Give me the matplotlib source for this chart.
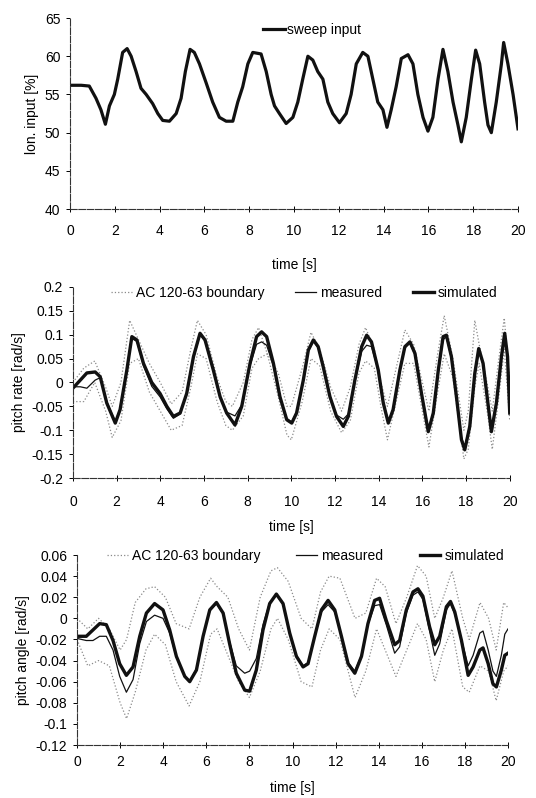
import matplotlib
matplotlib.use("Agg")
import matplotlib.pyplot as plt

plt.rcParams["font.family"] = ["Liberation Sans", "DejaVu Sans"]
plt.rcParams["font.size"] = 10

# ---- panel 1: sweep input ----
t_in = [0, 0.5, 0.86, 1.16, 1.38, 1.58, 1.76, 1.98, 2.13, 2.35, 2.55, 2.73, 2.95, 3.17, 3.4,
        3.69, 3.92, 4.14, 4.44, 4.74, 4.96, 5.15, 5.36, 5.55, 5.78, 6.08, 6.37, 6.67, 6.97,
        7.27, 7.49, 7.71, 7.94, 8.16, 8.53, 8.76, 8.98, 9.13, 9.35, 9.65, 9.95, 10.17, 10.39,
        10.62, 10.84, 11.06, 11.29, 11.51, 11.73, 12.03, 12.33, 12.55, 12.78, 13.07, 13.3,
        13.52, 13.74, 13.97, 14.15, 14.34, 14.56, 14.79, 15.09, 15.31, 15.53, 15.76, 15.98,
        16.2, 16.43, 16.65, 16.87, 17.1, 17.32, 17.47, 17.69, 17.92, 18.11, 18.29, 18.51,
        18.66, 18.81, 19.03, 19.26, 19.36, 19.55, 19.78, 20.0]
sweep = [56.2, 56.2, 56.1, 54.5, 53.0, 51.1, 53.5, 55.0, 57.0, 60.5, 61.0, 60.0, 58.0, 55.8,
         55.0, 53.8, 52.5, 51.6, 51.5, 52.5, 54.5, 58.0, 60.9, 60.5, 59.0, 56.5, 54.0, 52.0,
         51.5, 51.5, 54.0, 56.0, 59.0, 60.5, 60.3, 58.0, 55.0, 53.5, 52.5, 51.2, 52.0, 54.0,
         57.0, 60.0, 59.5, 58.0, 57.0, 54.0, 52.5, 51.3, 52.5, 55.0, 59.0, 60.5, 60.0, 57.0,
         54.0, 53.0, 50.7, 53.0, 56.0, 59.7, 60.2, 59.0, 55.0, 52.0, 50.2, 52.0, 57.0, 60.9,
         58.0, 54.0, 51.0, 48.8, 52.0, 57.0, 60.8, 59.0, 54.0, 51.0, 50.0, 54.0, 59.0, 61.8,
         59.0, 55.0, 50.5]

# ---- panel 2: pitch rate ----
t_q = [0, 0.34, 0.64, 1.02, 1.25, 1.55, 1.94, 2.16, 2.47, 2.7, 2.93, 3.23, 3.61, 3.99, 4.3,
       4.6, 4.91, 5.21, 5.52, 5.82, 6.05, 6.43, 6.74, 7.04, 7.42, 7.73, 8.11, 8.41, 8.64,
       8.87, 9.18, 9.48, 9.79, 10.02, 10.24, 10.55, 10.78, 11.01, 11.23, 11.46, 11.77, 12.07,
       12.38, 12.61, 12.91, 13.22, 13.45, 13.67, 13.98, 14.21, 14.44, 14.66, 14.97, 15.2,
       15.43, 15.66, 15.96, 16.27, 16.5, 16.73, 16.95, 17.1, 17.33, 17.56, 17.79, 17.94,
       18.17, 18.4, 18.58, 18.78, 19.0, 19.16, 19.39, 19.62, 19.77, 19.9, 20.0]
q_sim = [-0.012, 0.005, 0.02, 0.022, 0.012, -0.043, -0.085, -0.057, 0.026, 0.096, 0.089,
         0.04, 0.0, -0.023, -0.05, -0.071, -0.064, -0.023, 0.054, 0.103, 0.089, 0.026,
         -0.03, -0.064, -0.089, -0.05, 0.04, 0.096, 0.106, 0.096, 0.04, -0.03, -0.078,
         -0.085, -0.064, 0.005, 0.068, 0.089, 0.075, 0.033, -0.03, -0.071, -0.092, -0.071,
         0.005, 0.075, 0.099, 0.085, 0.026, -0.043, -0.085, -0.057, 0.026, 0.075, 0.085,
         0.061, -0.023, -0.103, -0.064, 0.026, 0.096, 0.099, 0.054, -0.03, -0.12, -0.141,
         -0.092, 0.019, 0.071, 0.04, -0.043, -0.103, -0.043, 0.054, 0.103, 0.054, -0.064]
q_meas = [-0.009, -0.009, -0.012, 0.005, 0.01, -0.04, -0.082, -0.055, 0.024, 0.092, 0.086,
          0.035, -0.008, -0.03, -0.055, -0.075, -0.066, -0.025, 0.05, 0.1, 0.087, 0.024,
          -0.03, -0.062, -0.07, -0.047, 0.035, 0.08, 0.085, 0.078, 0.035, -0.03, -0.075,
          -0.083, -0.062, 0.003, 0.065, 0.086, 0.073, 0.03, -0.03, -0.068, -0.077, -0.066,
          0.003, 0.065, 0.078, 0.075, 0.025, -0.04, -0.082, -0.055, 0.024, 0.072, 0.083,
          0.058, -0.022, -0.1, -0.062, 0.024, 0.09, 0.095, 0.05, -0.03, -0.115, -0.135,
          -0.09, 0.015, 0.065, 0.038, -0.04, -0.095, -0.045, 0.05, 0.09, 0.06, -0.03]

t_qb = [0, 0.5, 1.0, 1.5, 1.8, 2.2, 2.6, 3.0, 3.5, 4.0, 4.5, 5.0, 5.4, 5.7, 6.1, 6.6, 7.0,
        7.3, 7.8, 8.2, 8.5, 8.9, 9.4, 9.8, 10.0, 10.5, 10.9, 11.3, 11.8, 12.3, 12.7, 13.1,
        13.4, 13.8, 14.1, 14.4, 14.8, 15.2, 15.6, 16.0, 16.3, 16.7, 17.0, 17.4, 17.9, 18.1,
        18.4, 18.6, 19.0, 19.2, 19.5, 19.75, 20.0]
q_bnd_hi = [0.0, 0.03, 0.045, -0.01, -0.05, 0.0, 0.13, 0.09, 0.04, 0.0, -0.045, -0.02, 0.07,
            0.13, 0.1, 0.01, -0.04, -0.05, 0.0, 0.09, 0.115, 0.06, 0.02, -0.05, -0.05, 0.03,
            0.105, 0.07, -0.01, -0.06, -0.01, 0.08, 0.115, 0.07, 0.0, -0.05, 0.03, 0.11, 0.08,
            0.0, -0.06, 0.06, 0.14, 0.05, -0.1, -0.06, 0.13, 0.08, -0.01, -0.06, 0.05, 0.135,
            0.0]
q_bnd_lo = [-0.04, -0.04, 0.0, -0.06, -0.115, -0.08, 0.04, 0.05, -0.02, -0.06, -0.1, -0.09,
            -0.01, 0.06, 0.05, -0.04, -0.09, -0.1, -0.07, 0.03, 0.05, 0.06, -0.03, -0.11,
            -0.12, -0.04, 0.05, 0.035, -0.06, -0.105, -0.08, 0.02, 0.045, 0.03, -0.05, -0.12,
            -0.04, 0.04, 0.04, -0.06, -0.135, -0.02, 0.06, 0.01, -0.16, -0.14, -0.01, 0.04,
            -0.07, -0.14, -0.03, 0.07, -0.08]

# ---- panel 3: pitch angle ----
t_th = [0, 0.43, 0.74, 1.05, 1.36, 1.67, 1.98, 2.29, 2.6, 2.91, 3.22, 3.6, 3.99, 4.3, 4.61,
        5.0, 5.23, 5.54, 5.85, 6.16, 6.47, 6.78, 7.08, 7.39, 7.78, 8.01, 8.32, 8.63, 8.94,
        9.25, 9.56, 9.87, 10.18, 10.49, 10.72, 11.03, 11.34, 11.65, 11.96, 12.27, 12.58,
        12.89, 13.2, 13.5, 13.81, 14.04, 14.35, 14.74, 14.97, 15.28, 15.59, 15.82, 16.05,
        16.36, 16.6, 16.83, 17.14, 17.33, 17.53, 17.84, 18.15, 18.38, 18.69, 18.84, 19.08,
        19.3, 19.46, 19.69, 19.85, 20.0]
th_sim = [-0.017, -0.017, -0.011, -0.005, -0.006, -0.021, -0.043, -0.054, -0.046, -0.017,
          0.005, 0.014, 0.008, -0.011, -0.036, -0.055, -0.06, -0.049, -0.017, 0.008, 0.015,
          0.005, -0.024, -0.052, -0.068, -0.069, -0.049, -0.011, 0.014, 0.023, 0.014, -0.014,
          -0.036, -0.046, -0.043, -0.017, 0.008, 0.017, 0.008, -0.017, -0.043, -0.052,
          -0.036, -0.005, 0.017, 0.019, -0.002, -0.025, -0.021, 0.008, 0.025, 0.028, 0.021,
          -0.008, -0.025, -0.017, 0.011, 0.016, 0.006, -0.021, -0.054, -0.046, -0.03, -0.028,
          -0.043, -0.062, -0.065, -0.049, -0.035, -0.033]
th_meas = [-0.019, -0.021, -0.021, -0.017, -0.017, -0.03, -0.055, -0.07, -0.058, -0.024,
           -0.003, 0.003, 0.0, -0.014, -0.037, -0.055, -0.059, -0.048, -0.017, 0.007, 0.014,
           0.004, -0.022, -0.045, -0.052, -0.05, -0.038, -0.006, 0.015, 0.022, 0.013, -0.014,
           -0.035, -0.045, -0.042, -0.017, 0.006, 0.013, 0.006, -0.017, -0.042, -0.05,
           -0.035, -0.006, 0.012, 0.013, -0.006, -0.033, -0.027, 0.005, 0.022, 0.025, 0.018,
           -0.012, -0.035, -0.024, 0.008, 0.014, 0.004, -0.02, -0.045, -0.035, -0.014,
           -0.012, -0.03, -0.05, -0.055, -0.035, -0.015, -0.01]

t_thb = [0, 0.5, 1.0, 1.5, 2.0, 2.3, 2.7, 3.2, 3.6, 4.1, 4.6, 5.2, 5.7, 6.2, 6.5, 7.0, 7.5,
         8.0, 8.5, 9.0, 9.3, 9.8, 10.4, 10.9, 11.3, 11.7, 12.2, 12.9, 13.4, 13.9, 14.3, 14.8,
         15.3, 15.8, 16.2, 16.6, 17.0, 17.4, 17.9, 18.2, 18.7, 19.1, 19.45, 19.8, 20.0]
th_bnd_hi = [0.0, -0.01, 0.0, -0.01, -0.03, -0.02, 0.015, 0.028, 0.03, 0.02, -0.005, -0.01,
             0.02, 0.038, 0.03, 0.02, -0.01, -0.03, 0.02, 0.045, 0.048, 0.035, 0.0, -0.01,
             0.025, 0.04, 0.038, 0.0, 0.005, 0.038, 0.03, -0.005, 0.02, 0.05, 0.04, 0.0,
             0.02, 0.045, 0.0, -0.02, 0.015, 0.0, -0.03, 0.015, 0.01]
th_bnd_lo = [-0.02, -0.045, -0.04, -0.045, -0.08, -0.095, -0.07, -0.03, -0.015, -0.025,
             -0.06, -0.083, -0.06, -0.015, -0.01, -0.035, -0.06, -0.075, -0.05, -0.01, 0.0,
             -0.02, -0.06, -0.065, -0.03, -0.01, -0.02, -0.075, -0.05, -0.01, -0.03, -0.055,
             -0.03, -0.005, -0.02, -0.06, -0.03, -0.01, -0.065, -0.07, -0.045, -0.05, -0.078,
             -0.05, -0.045]

x_ticks = list(range(0, 21, 2))

fig = plt.figure(figsize=(5.36, 7.98), dpi=100)
ax1 = fig.add_axes([0.1306, 0.738, 0.8358, 0.2394])
ax2 = fig.add_axes([0.136, 0.401, 0.815, 0.2394])
ax3 = fig.add_axes([0.1437, 0.0664, 0.8041, 0.2381])

bnd_style = dict(color="#8a8a8a", linestyle=":", linewidth=0.9)


def style_axes(ax, ylim, yticks, ylabel, tick_pad, label_pad):
    ax.set_xlim(0, 20)
    ax.set_ylim(*ylim)
    ax.set_xticks(x_ticks)
    ax.set_yticks(yticks)
    ax.set_yticklabels([f"{v:g}" for v in yticks])
    for s in ("top", "right"):
        ax.spines[s].set_visible(False)
    for s in ("left", "bottom"):
        ax.spines[s].set_linewidth(0.8)
        ax.spines[s].set_color("#333333")
        ax.spines[s].set_linestyle((0, (6, 1.5)))
    ax.tick_params(axis="x", direction="inout", length=4, width=0.7, pad=tick_pad, labelsize=10)
    ax.tick_params(axis="y", direction="out", length=3, width=0.7, pad=4, labelsize=10)
    ax.set_xlabel("time [s]", labelpad=label_pad, fontsize=10)
    ax.set_ylabel(ylabel, fontsize=10, labelpad=4)
    ax.patch.set_alpha(0)


ax1.plot(t_in, sweep, color="#111111", linewidth=2.3, label="sweep input")
style_axes(ax1, (40, 65), [40, 45, 50, 55, 60, 65], "lon. input [%]", 9, 14)
ax1.legend(loc="upper center", bbox_to_anchor=(0.54, 1.04), frameon=False,
           handlelength=1.6, handletextpad=0.15, fontsize=10)

ax2.plot(t_qb, q_bnd_hi, label="AC 120-63 boundary", **bnd_style)
ax2.plot(t_qb, q_bnd_lo, **bnd_style)
ax2.plot(t_q, q_meas, color="#111111", linewidth=0.9, label="measured")
ax2.plot(t_q, q_sim, color="#111111", linewidth=2.4, label="simulated")
style_axes(ax2, (-0.2, 0.2), [-0.2, -0.15, -0.1, -0.05, 0, 0.05, 0.1, 0.15, 0.2],
           "pitch rate [rad/s]", 10, 8)
ax2.legend(loc="upper center", bbox_to_anchor=(0.53, 1.07), frameon=False, ncol=3,
           handlelength=1.5, handletextpad=0.3, columnspacing=2.2, fontsize=10)

ax3.plot(t_thb, th_bnd_hi, label="AC 120-63 boundary", **bnd_style)
ax3.plot(t_thb, th_bnd_lo, **bnd_style)
ax3.plot(t_th, th_meas, color="#111111", linewidth=0.9, label="measured")
ax3.plot(t_th, th_sim, color="#111111", linewidth=2.4, label="simulated")
style_axes(ax3, (-0.12, 0.06), [-0.12, -0.1, -0.08, -0.06, -0.04, -0.02, 0, 0.02, 0.04, 0.06],
           "pitch angle [rad/s]", 5, 9)
ax3.legend(loc="upper center", bbox_to_anchor=(0.53, 1.1), frameon=False, ncol=3,
           handlelength=1.5, handletextpad=0.3, columnspacing=2.6, fontsize=10)

fig.savefig("out.png", dpi=100)
